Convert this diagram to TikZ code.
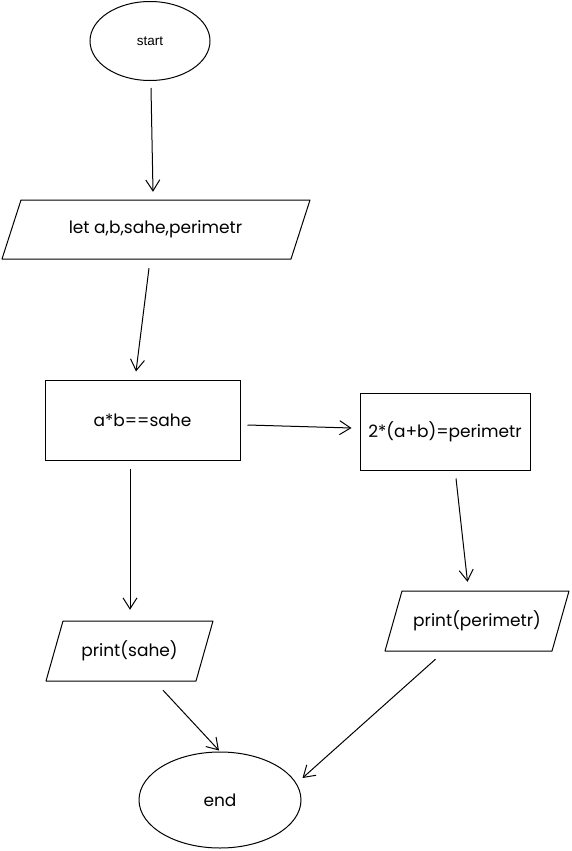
\documentclass[tikz,border=0pt]{standalone}
\usepackage{fontspec}
\setmainfont{Poppins}
\newfontfamily\plainfont{Liberation Sans}
\usetikzlibrary{shapes.geometric,arrows.meta}
\begin{document}
\begin{tikzpicture}[x=1pt,y=-1pt,
  shp/.style={draw, line width=1pt, inner sep=0pt},
  ghost/.style={inner sep=0pt},
  outline/.style={line width=1pt, line join=round},
  arr/.style={line width=1pt, -{Straight Barb[length=11pt,width=14pt,line width=1pt]}},
  lbl/.style={font=\fontsize{17}{17}\selectfont}]
\useasboundingbox (0,0) rectangle (571,851);
% nodes
\node[shp, ellipse, minimum width=120pt, minimum height=79pt, font=\plainfont\fontsize{13.5}{13.5}\selectfont] (start) at (150,41) {start};
\node[ghost, minimum width=270pt, minimum height=59pt, lbl] (let) at (155.5,229.5) {let a,b,sahe,perimetr};
\draw[outline] (21,200) -- (310,200) -- (291,259) -- (2,259) -- cycle;
\node[shp, rectangle, minimum width=195pt, minimum height=80pt, lbl] (op1) at (142.5,420) {a*b==sahe};
\node[shp, rectangle, minimum width=170pt, minimum height=77pt, lbl] (op2) at (445,431.5) {2*(a+b)=perimetr};
\node[ghost, minimum width=150pt, minimum height=60pt, lbl] (ps) at (129.5,651) {print(sahe)};
\draw[outline] (63,621) -- (213,621) -- (196,681) -- (46,681) -- cycle;
\node[ghost, minimum width=168pt, minimum height=60pt, lbl] (pp) at (477,621) {print(perimetr)};
\draw[outline] (402,591) -- (569,591) -- (552,651) -- (385,651) -- cycle;
\node[shp, ellipse, minimum width=162pt, minimum height=96pt, lbl] (end) at (220,800) {end};
% connectors
\draw[arr] ([shift={(1,7)}]start.south) -- ([shift={(-2.5,-8)}]let.north);
\draw[arr] ([shift={(-6.5,9)}]let.south) -- ([shift={(-6.5,-8)}]op1.north);
\draw[arr] ([shift={(7,5)}]op1.east) -- ([shift={(-8,-3.5)}]op2.west);
\draw[arr] ([shift={(-12.5,8)}]op1.south) -- ([shift={(0.5,-11)}]ps.north);
\draw[arr] ([shift={(11,8)}]op2.south) -- ([shift={(-9.5,-9)}]pp.north);
\draw[arr] ([shift={(33.5,9)}]ps.south) -- ([shift={(-1,-1)}]end.north);
\draw[arr] ([shift={(-41.5,8)}]pp.south) -- ([shift={(1,-22)}]end.east);
\end{tikzpicture}
\end{document}
